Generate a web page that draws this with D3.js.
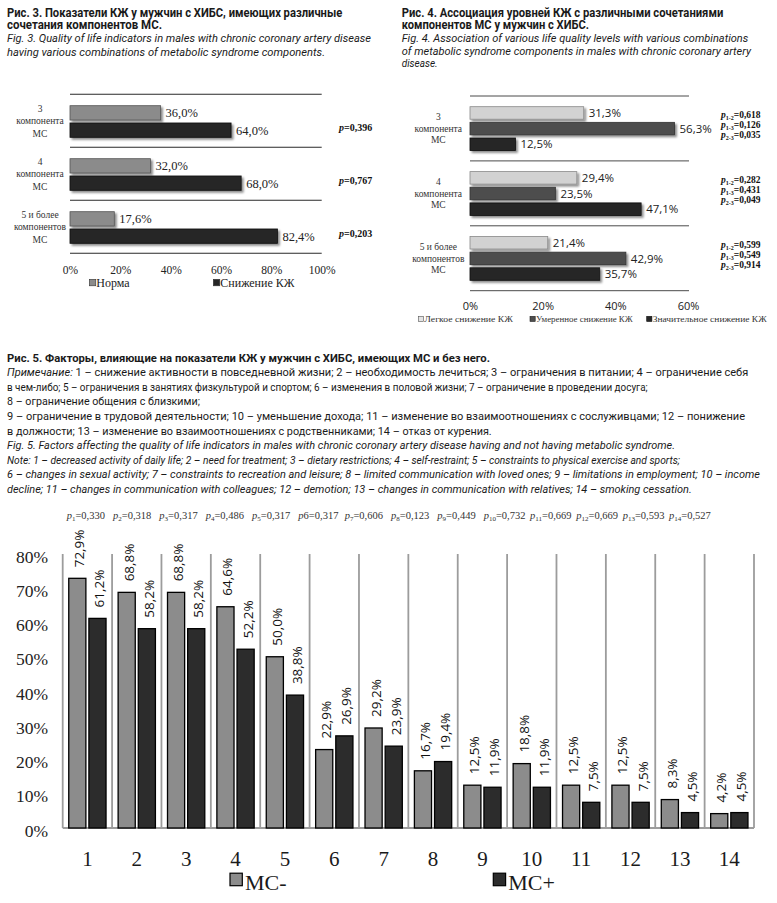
<!DOCTYPE html>
<html><head><meta charset="utf-8">
<script src="https://cdn.jsdelivr.net/npm/d3@7"></script>
<style>
html,body{margin:0;padding:0;background:#fff;}
svg{display:block;}
</style></head><body>
<svg id="c" width="777" height="903"></svg>
<script>
// ---------------- data ----------------
const fig3Groups = [["3","компонента","МС"],["4","компонента","МС"],["5 и более","компонентов","МС"]];
const fig3Norm = [36.0, 32.0, 17.6];
const fig3Decline = [64.0, 68.0, 82.4];
const fig3P = ["0,396","0,767","0,203"];
const fig3Ticks = [0,20,40,60,80,100];
const fig3Legend = ["Норма","Снижение КЖ"];

const fig4Groups = [["3","компонента","МС"],["4","компонента","МС"],["5 и более","компонентов","МС"]];
const fig4Mild = [31.3, 29.4, 21.4];
const fig4Moderate = [56.3, 23.5, 42.9];
const fig4Severe = [12.5, 47.1, 35.7];
const fig4P = [["0,618","0,126","0,035"],["0,282","0,431","0,049"],["0,599","0,549","0,914"]];
const fig4PPairs = ["1-2","1-3","2-3"];
const fig4Ticks = [0,20,40,60];
const fig4Legend = ["Легкое снижение КЖ","Умеренное снижение КЖ","Значительное снижение КЖ"];

const fig5Categories = ["1","2","3","4","5","6","7","8","9","10","11","12","13","14"];
const fig5MSminus = [72.9, 68.8, 68.8, 64.6, 50.0, 22.9, 29.2, 16.7, 12.5, 18.8, 12.5, 12.5, 8.3, 4.2];
const fig5MSplus  = [61.2, 58.2, 58.2, 52.2, 38.8, 26.9, 23.9, 19.4, 11.9, 11.9, 7.5, 7.5, 4.5, 4.5];
const fig5P = ["0,330","0,318","0,317","0,486","0,317","0,317","0,606","0,123","0,449","0,732","0,669","0,669","0,593","0,527"];
const fig5Ticks = [0,10,20,30,40,50,60,70,80];
const fig5Legend = ["МС-","МС+"];

// ---------------- captions ----------------
const fig3Title = ["Рис. 3. Показатели КЖ у мужчин с ХИБС, имеющих различные","сочетания компонентов МС."];
const fig3TitleEn = ["Fig. 3. Quality of life indicators in males with chronic coronary artery disease","having various combinations of metabolic syndrome components."];
const fig4Title = ["Рис. 4. Ассоциация уровней КЖ с различными сочетаниями","компонентов МС у мужчин с ХИБС."];
const fig4TitleEn = ["Fig. 4. Association of various life quality levels with various combinations","of metabolic syndrome components in males with chronic coronary artery","disease."];
const fig5Title = "Рис. 5. Факторы, влияющие на показатели КЖ у мужчин с ХИБС, имеющих МС и без него.";
const fig5NoteRu = [
 [["Примечание:", true],[" 1 – снижение активности в повседневной жизни; 2 – необходимость лечиться; 3 – ограничения в питании; 4 – ограничение себя", false]],
 [["в чем-либо; 5 – ограничения в занятиях физкультурой и спортом; 6 – изменения в половой жизни; 7 – ограничение в проведении досуга;", false]],
 [["8 – ограничение общения с близкими;", false]],
 [["9 – ограничение в трудовой деятельности; 10 – уменьшение дохода; 11 – изменение во взаимоотношениях с сослуживцами; 12 – понижение", false]],
 [["в должности; 13 – изменение во взаимоотношениях с родственниками; 14 – отказ от курения.", false]]
];
const fig5NoteEn = [
 "Fig. 5. Factors affecting the quality of life indicators in males with chronic coronary artery disease having and not having metabolic syndrome.",
 "Note: 1 – decreased activity of daily life; 2 – need for treatment; 3 – dietary restrictions; 4 – self-restraint; 5 – constraints to physical exercise and sports;",
 "6 – changes in sexual activity; 7 – constraints to recreation and leisure; 8 – limited communication with loved ones; 9 – limitations in employment; 10 – income",
 "decline; 11 – changes in communication with colleagues; 12 – demotion; 13 – changes in communication with relatives; 14 – smoking cessation."
];

// ---------------- setup ----------------
const svg = d3.select("#c");
svg.append("rect").attr("width",777).attr("height",903).attr("fill","#fff");
const defs = svg.append("defs");
const f = defs.append("filter").attr("id","sh").attr("x","-10%").attr("y","-40%").attr("width","130%").attr("height","200%");
f.append("feDropShadow").attr("dx",2).attr("dy",2).attr("stdDeviation",1.2).attr("flood-color","#000").attr("flood-opacity",0.45);

const loc = d3.formatLocale({decimal:",", thousands:" ", grouping:[3], currency:["",""]});
const fmt1 = loc.format(".1f");
const SANS = "Roboto, 'Open Sans', sans-serif";
const SERIF = "'Liberation Serif', 'DejaVu Serif', serif";

// text block helper: lines = [{segs:[[str,italic]], x, y, end}]
function textBlock(lines, o) {
  const g = svg.append("g");
  const nodes = lines.map(l => {
    const t = g.append("text").attr("x", l.x).attr("y", l.y)
      .attr("font-family", o.family).attr("font-size", o.size)
      .attr("font-weight", o.weight || "normal").attr("fill", o.fill || "#1a1a1a")
      .attr("font-style", o.italic ? "italic" : "normal");
    l.segs.forEach(s => t.append("tspan").attr("font-style", (s[1] || o.italic) ? "italic" : "normal").text(s[0]));
    return t;
  });
  const nat = nodes.map(n => n.node().getComputedTextLength());
  const ks = lines.map((l,i) => l.end != null ? (l.end - l.x) / nat[i] : null).filter(k => k != null);
  const k = ks.length ? d3.mean(ks) : 1;
  nodes.forEach((n,i) => {
    const L = lines[i].end != null ? lines[i].end - lines[i].x : nat[i] * k;
    n.attr("textLength", L).attr("lengthAdjust", "spacingAndGlyphs");
  });
}

// ---------------- captions ----------------
textBlock([
  {segs:[[fig3Title[0]]], x:7, y:16.9, end:342.3},
  {segs:[[fig3Title[1]]], x:7, y:29.2, end:162}
], {family:SANS, size:12, weight:"bold"});
textBlock([
  {segs:[[fig3TitleEn[0]]], x:7, y:42.3, end:371},
  {segs:[[fig3TitleEn[1]]], x:7, y:55.7, end:325}
], {family:SANS, size:11.5, italic:true});
textBlock([
  {segs:[[fig4Title[0]]], x:401.7, y:16.9, end:723.3},
  {segs:[[fig4Title[1]]], x:401.7, y:29.2, end:589}
], {family:SANS, size:12, weight:"bold"});
textBlock([
  {segs:[[fig4TitleEn[0]]], x:401.7, y:42.3, end:748.3},
  {segs:[[fig4TitleEn[1]]], x:401.7, y:54.9, end:751},
  {segs:[[fig4TitleEn[2]]], x:401.7, y:67.4, end:437.7}
], {family:SANS, size:11.5, italic:true});
textBlock([{segs:[[fig5Title]], x:7, y:361.5, end:490}], {family:SANS, size:11.5, weight:"bold"});
const ruEnds = [748.3, 647.7, null, 745, 491.7];
textBlock(fig5NoteRu.map((s,i) => ({segs:s, x:7, y:376.1 + i*14.6, end:ruEnds[i]})), {family:SANS, size:11});
const enEnds = [675, 680, 760, 691.7];
textBlock(fig5NoteEn.map((s,i) => ({segs:[[s]], x:7, y:376.1 + (i+5)*14.6, end:enEnds[i]})), {family:SANS, size:11, italic:true});

// ---------------- Fig. 3 ----------------
{
  const g = svg.append("g");
  const x = d3.scaleLinear().domain([0,100]).range([70,321.7]);
  const y = d3.scaleBand().domain(d3.range(fig3Groups.length)).range([94.3,253.3]);
  const yi = d3.scaleBand().domain(["norm","decl"]).range([11.4,43]).paddingInner(0.17);
  const edges = y.domain().map(d => y(d)).concat([y.range()[1]]);
  g.selectAll("line.sep").data(edges).join("line").attr("class","sep")
    .attr("x1", x(0)).attr("x2", x(100)).attr("y1", d => d).attr("y2", d => d)
    .attr("stroke","#2a2a2a").attr("stroke-width",1.1);
  const series = [
    {key:"norm", vals:fig3Norm, fill:"#8b8b8b", stroke:"#555"},
    {key:"decl", vals:fig3Decline, fill:"#262626", stroke:"#111"}
  ];
  series.forEach(s => {
    s.vals.forEach((v,i) => {
      const yy = y(i) + yi(s.key);
      g.append("rect").attr("x", x(0)).attr("y", yy).attr("width", x(v)-x(0)).attr("height", yi.bandwidth())
        .attr("fill", s.fill).attr("stroke", s.stroke).attr("stroke-width",0.8).attr("filter","url(#sh)");
      g.append("text").attr("x", x(v)+5).attr("y", yy + yi.bandwidth()/2).attr("dy","0.35em")
        .attr("font-family", SERIF).attr("font-size",12.5).attr("fill","#222").text(fmt1(v) + "%");
    });
  });
  fig3Groups.forEach((lines,i) => {
    const c = y(i) + y.bandwidth()/2;
    lines.forEach((t,j) => g.append("text").attr("x",40).attr("y", c + (j-1)*12.5).attr("dy","0.35em")
      .attr("text-anchor","middle").attr("font-family",SERIF).attr("font-size",9.5).attr("fill","#333").text(t));
    const p = g.append("text").attr("x",339).attr("y", c + 6.8).attr("dy","0.35em")
      .attr("font-family",SERIF).attr("font-size",10).attr("font-weight","bold").attr("fill","#111");
    p.append("tspan").attr("font-style","italic").text("p");
    p.append("tspan").text("=" + fig3P[i]);
  });
  const ax = g.append("g").attr("transform",`translate(0,${y.range()[1]})`)
    .call(d3.axisBottom(x).tickValues(fig3Ticks).tickFormat(d => d + "%").tickSize(0).tickPadding(12.7));
  ax.select(".domain").remove();
  ax.selectAll("text").attr("font-family",SERIF).attr("font-size",11.5).attr("fill","#222");
  const leg = [{x:89.3, fill:"#8b8b8b"},{x:213.3, fill:"#262626"}];
  leg.forEach((l,i) => {
    g.append("rect").attr("x",l.x).attr("y",279.3).attr("width",6.5).attr("height",6.5).attr("fill",l.fill).attr("stroke","#333").attr("stroke-width",0.6);
    g.append("text").attr("x",l.x+7).attr("y",286.8).attr("font-family",SERIF).attr("font-size",12).attr("fill","#222").text(fig3Legend[i]);
  });
}

// ---------------- Fig. 4 ----------------
{
  const g = svg.append("g");
  const x = d3.scaleLinear().domain([0,60]).range([470,688]);
  const y = d3.scaleBand().domain(d3.range(fig4Groups.length)).range([96,290.7]);
  const yi = d3.scaleBand().domain(["mild","mod","sev"]).range([10.7,54.5]).paddingInner(0.2);
  const edges = y.domain().map(d => y(d)).concat([y.range()[1]]);
  g.selectAll("line.sep").data(edges).join("line").attr("class","sep")
    .attr("x1", x(0)).attr("x2", 689).attr("y1", d => d).attr("y2", d => d)
    .attr("stroke","#4a4a4a").attr("stroke-width",1);
  const series = [
    {key:"mild", vals:fig4Mild, fill:"#d2d2d2", stroke:"#8a8a8a"},
    {key:"mod", vals:fig4Moderate, fill:"#4e4e4e", stroke:"#333"},
    {key:"sev", vals:fig4Severe, fill:"#272727", stroke:"#111"}
  ];
  series.forEach(s => {
    s.vals.forEach((v,i) => {
      const yy = y(i) + yi(s.key);
      g.append("rect").attr("x", x(0)).attr("y", yy).attr("width", x(v)-x(0)).attr("height", yi.bandwidth())
        .attr("fill", s.fill).attr("stroke", s.stroke).attr("stroke-width",0.8).attr("filter","url(#sh)");
      g.append("text").attr("x", x(v)+5).attr("y", yy + yi.bandwidth()/2).attr("dy","0.36em")
        .attr("font-family","'Open Sans', sans-serif").attr("font-size",11.5).attr("fill","#222").text(fmt1(v) + "%");
    });
  });
  fig4Groups.forEach((lines,i) => {
    const c = y(i) + y.bandwidth()/2;
    lines.forEach((t,j) => g.append("text").attr("x",438.3).attr("y", c + (j-1)*11.5).attr("dy","0.35em")
      .attr("text-anchor","middle").attr("font-family",SERIF).attr("font-size",9.5).attr("fill","#333").text(t));
    fig4P[i].forEach((pv,j) => {
      const p = g.append("text").attr("x",721).attr("y", c - 14 + j*10).attr("dy","0.35em")
        .attr("font-family",SERIF).attr("font-size",9.5).attr("font-weight","bold").attr("fill","#111");
      p.append("tspan").attr("font-style","italic").text("p");
      p.append("tspan").attr("font-size",6).attr("dy",2).text(fig4PPairs[j]);
      p.append("tspan").attr("dy",-2).text("=" + pv);
    });
  });
  const ax = g.append("g").attr("transform",`translate(0,${y.range()[1]})`)
    .call(d3.axisBottom(x).tickValues(fig4Ticks).tickFormat(d => d + "%").tickSize(0).tickPadding(11.4));
  ax.select(".domain").remove();
  ax.selectAll("text").attr("font-family","'Open Sans', sans-serif").attr("font-size",11).attr("fill","#222");
  const leg = [{x:418.3, end:513, fill:"#e4e4e4", stroke:"#555"},{x:530, end:632.7, fill:"#4e4e4e", stroke:"#222"},{x:646.7, end:766.7, fill:"#272727", stroke:"#111"}];
  leg.forEach((l,i) => {
    g.append("rect").attr("x",l.x).attr("y",316.3).attr("width",5.2).attr("height",5.2).attr("fill",l.fill).attr("stroke",l.stroke).attr("stroke-width",0.6);
    g.append("text").attr("x",l.x+6).attr("y",322).attr("font-family",SERIF).attr("font-size",8.5).attr("fill","#333")
      .attr("textLength", l.end - l.x - 6).attr("lengthAdjust","spacingAndGlyphs").text(fig4Legend[i]);
  });
}

// ---------------- Fig. 5 ----------------
{
  const g = svg.append("g");
  const x = d3.scaleBand().domain(fig5Categories).range([62.7,754]).padding(0);
  const xi = d3.scaleBand().domain(["minus","plus"]).range([0, x.bandwidth()]).paddingInner(0.15).paddingOuter(0.3);
  const y = d3.scaleLinear().domain([0,80]).range([828,554]);
  const edges = x.domain().map(d => x(d)).concat([x.range()[1]]);
  g.selectAll("line.grid").data(edges).join("line").attr("class","grid")
    .attr("x1", d => d).attr("x2", d => d).attr("y1", y(80)).attr("y2", y(0))
    .attr("stroke","#9c9c9c").attr("stroke-width",1.8);
  g.append("line").attr("x1", x.range()[0]).attr("x2", x.range()[1]).attr("y1", y(0)).attr("y2", y(0))
    .attr("stroke","#9c9c9c").attr("stroke-width",1.8);

  const series = [
    {key:"minus", vals:fig5MSminus, fill:"#8c8c8c"},
    {key:"plus", vals:fig5MSplus, fill:"#2c2c2c"}
  ];
  series.forEach(s => {
    s.vals.forEach((v,i) => {
      const c = fig5Categories[i];
      const bx = x(c) + xi(s.key);
      g.append("rect").attr("x", bx).attr("y", y(v)).attr("width", xi.bandwidth()).attr("height", y(0)-y(v))
        .attr("fill", s.fill).attr("stroke","#000").attr("stroke-width",1.3);
      const cx = bx + xi.bandwidth()/2 + 2;
      g.append("text").attr("transform",`translate(${cx},${y(v)-11}) rotate(-90)`)
        .attr("dominant-baseline","central").attr("font-family","'Open Sans', sans-serif")
        .attr("font-size",13.5).attr("fill","#111").text(fmt1(v) + "%");
    });
  });

  const ay = g.append("g").attr("transform",`translate(${x.range()[0]},2.6)`)
    .call(d3.axisLeft(y).tickValues(fig5Ticks).tickFormat(d => d + "%").tickSize(0).tickPadding(14.7));
  ay.select(".domain").remove();
  ay.selectAll("text").attr("font-family",SERIF).attr("font-size",17.5).attr("fill","#222");

  const ax = g.append("g").attr("transform",`translate(0,${y(0)})`)
    .call(d3.axisBottom(x).tickSize(0).tickPadding(22.6));
  ax.select(".domain").remove();
  ax.selectAll("text").attr("font-family",SERIF).attr("font-size",21).attr("fill","#1a1a1a");

  const px = d3.scalePoint().domain(fig5Categories).range([66.7,669]);
  fig5Categories.forEach((c,i) => {
    const t = g.append("text").attr("x", px(c)).attr("y",518.6)
      .attr("font-family",SERIF).attr("font-size",10.5).attr("fill","#333");
    t.append("tspan").attr("font-style","italic").text("p");
    if (c === "6") {
      t.append("tspan").text(c + "=" + fig5P[i]);
    } else {
      t.append("tspan").attr("font-size",7).attr("dy",2.5).text(c);
      t.append("tspan").attr("dy",-2.5).text("=" + fig5P[i]);
    }
  });

  const leg = [{x:230, fill:"#8c8c8c"},{x:493.3, fill:"#2c2c2c"}];
  leg.forEach((l,i) => {
    g.append("rect").attr("x",l.x).attr("y",873.2).attr("width",12.3).attr("height",12.5)
      .attr("fill",l.fill).attr("stroke","#000").attr("stroke-width",1.2);
    g.append("text").attr("x",l.x+15).attr("y",889.5).attr("font-family",SERIF).attr("font-size",22).attr("fill","#1a1a1a").text(fig5Legend[i]);
  });
}
</script>
</body></html>
